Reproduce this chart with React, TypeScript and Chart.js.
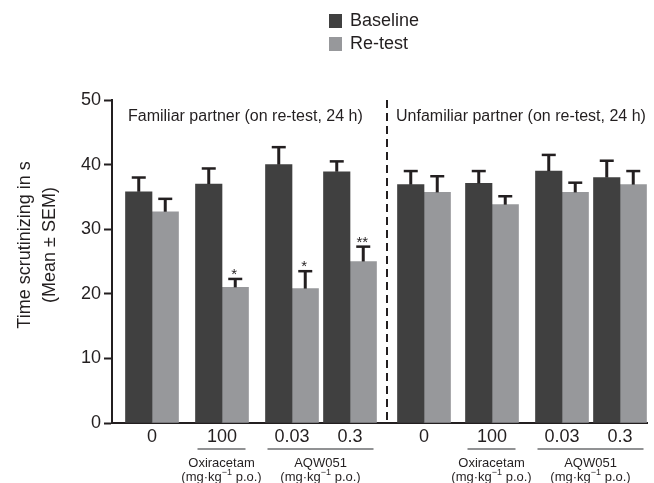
import React, { useEffect, useRef } from "react";
import { Chart, registerables } from "chart.js";

Chart.register(...registerables);

// ---------- data ----------
const doseLabels = ["0", "100", "0.03", "0.3", "0", "100", "0.03", "0.3"];
const seriesNames = ["Baseline", "Re-test"];
const baselineMean = [35.8, 37.0, 40.0, 38.9, 36.9, 37.1, 39.0, 38.0];
const baselineSem = [2.2, 2.4, 2.7, 1.6, 2.1, 1.9, 2.5, 2.6];
const retestMean = [32.7, 21.0, 20.8, 25.0, 35.7, 33.8, 35.7, 36.9];
const retestSem = [2.0, 1.3, 2.7, 2.3, 2.5, 1.3, 1.5, 2.1];
const retestStars = ["", "*", "*", "**", "", "", "", ""];
const panelTitles = ["Familiar partner (on re-test, 24 h)", "Unfamiliar partner (on re-test, 24 h)"];
const drugNames = ["Oxiracetam", "AQW051", "Oxiracetam", "AQW051"];
const drugFirstGroup = [1, 2, 5, 6];
const drugLastGroup = [1, 3, 5, 7];
const yTitleLines = ["Time scrutinizing in s", "(Mean ± SEM)"];

// ---------- layout (group centres along the x axis, in axis units) ----------
const slotX = [40, 110, 180, 238, 312, 380, 450, 508];
const X_MAX = 535;

const FONT = '"Liberation Sans", Arial, Helvetica, sans-serif';
const INK = "#231f20";
const DARK = "#404040";
const LIGHT = "#97989b";
const BAR_W = 26.5;

const annotations = {
  id: "annotations",
  afterDatasetsDraw(chart: any) {
    const { ctx, scales } = chart;
    const y = scales.y;
    ctx.save();
    const series = [
      [baselineMean, baselineSem],
      [retestMean, retestSem],
    ];
    series.forEach(([vals, sems], di) => {
      const meta = chart.getDatasetMeta(di);
      meta.data.forEach((bar: any, i: number) => {
        const cx = bar.x;
        const top = y.getPixelForValue(vals[i]);
        const end = y.getPixelForValue(vals[i] + sems[i]);
        ctx.strokeStyle = INK;
        ctx.lineWidth = 3;
        ctx.lineCap = "butt";
        ctx.beginPath();
        ctx.moveTo(cx, top);
        ctx.lineTo(cx, end);
        ctx.stroke();
        ctx.lineWidth = 2.5;
        ctx.beginPath();
        ctx.moveTo(cx - 7, end);
        ctx.lineTo(cx + 7, end);
        ctx.stroke();
        if (di === 1 && retestStars[i]) {
          ctx.fillStyle = INK;
          ctx.font = `15px ${FONT}`;
          ctx.textAlign = "center";
          ctx.textBaseline = "alphabetic";
          ctx.fillText(retestStars[i], cx - 1, end);
        }
      });
    });
    ctx.restore();
  },
  afterDraw(chart: any) {
    const { ctx, chartArea, scales } = chart;
    const x = scales.x;
    ctx.save();
    ctx.fillStyle = INK;

    // legend
    const legendColors = [DARK, LIGHT];
    seriesNames.forEach((name, i) => {
      const cy = 21 + i * 23;
      ctx.fillStyle = legendColors[i];
      ctx.fillRect(329, cy - 7, 13, 14);
      ctx.fillStyle = INK;
      ctx.font = `18px ${FONT}`;
      ctx.textAlign = "left";
      ctx.textBaseline = "middle";
      ctx.fillText(name, 350, cy);
    });

    // y title
    ctx.font = `18px ${FONT}`;
    ctx.textAlign = "center";
    ctx.textBaseline = "middle";
    yTitleLines.forEach((line, i) => {
      ctx.save();
      ctx.translate(25 + i * 25, 245);
      ctx.rotate(-Math.PI / 2);
      ctx.fillText(line, 0, 0);
      ctx.restore();
    });

    // dashed separator between panels
    const leftEdge4 = x.getPixelForValue(slotX[3]) + BAR_W;
    const rightEdge5 = x.getPixelForValue(slotX[4]) - BAR_W;
    const sepX = (leftEdge4 + rightEdge5) / 2;
    ctx.strokeStyle = INK;
    ctx.lineWidth = 2;
    ctx.setLineDash([8, 5]);
    ctx.beginPath();
    ctx.moveTo(sepX, chartArea.top);
    ctx.lineTo(sepX, chartArea.bottom);
    ctx.stroke();
    ctx.setLineDash([]);

    // panel titles
    ctx.font = `16px ${FONT}`;
    ctx.textAlign = "left";
    ctx.textBaseline = "middle";
    ctx.fillText(panelTitles[0], chartArea.left + 16, 117);
    ctx.fillText(panelTitles[1], sepX + 9, 117);

    // dose tick labels
    ctx.font = `18px ${FONT}`;
    ctx.textAlign = "center";
    doseLabels.forEach((lab, i) => {
      ctx.fillText(lab, x.getPixelForValue(slotX[i]), 437);
    });

    // drug underlines and names
    drugNames.forEach((name, k) => {
      const a = x.getPixelForValue(slotX[drugFirstGroup[k]]) - BAR_W + 2;
      const b = x.getPixelForValue(slotX[drugLastGroup[k]]) + BAR_W - 3;
      ctx.strokeStyle = "#6d6e71";
      ctx.lineWidth = 1.5;
      ctx.beginPath();
      ctx.moveTo(a, 449);
      ctx.lineTo(b, 449);
      ctx.stroke();
      const c = (a + b) / 2;
      ctx.fillStyle = INK;
      ctx.font = `13px ${FONT}`;
      ctx.textAlign = "center";
      ctx.textBaseline = "middle";
      ctx.fillText(name, c, 463);
      // "(mg·kg⁻¹ p.o.)" with a drawn superscript
      const p1 = "(mg·kg";
      const sup = "−1";
      const p2 = " p.o.)";
      ctx.font = `13px ${FONT}`;
      const w1 = ctx.measureText(p1).width;
      const w3 = ctx.measureText(p2).width;
      ctx.font = `9px ${FONT}`;
      const w2 = ctx.measureText(sup).width;
      let sx = c - (w1 + w2 + w3) / 2;
      ctx.textAlign = "left";
      ctx.font = `13px ${FONT}`;
      ctx.fillText(p1, sx, 477);
      sx += w1;
      ctx.font = `9px ${FONT}`;
      ctx.fillText(sup, sx, 473);
      sx += w2;
      ctx.font = `13px ${FONT}`;
      ctx.fillText(p2, sx, 477);
    });

    ctx.restore();
  },
};

export default function App() {
  const ref = useRef<HTMLCanvasElement | null>(null);

  useEffect(() => {
    if (!ref.current) return;
    const chart = new Chart(ref.current, {
      type: "bar",
      data: {
        datasets: [
          {
            label: seriesNames[0],
            data: baselineMean.map((v, i) => ({ x: slotX[i], y: v })),
            backgroundColor: DARK,
            borderWidth: 0,
            barThickness: BAR_W,
          },
          {
            label: seriesNames[1],
            data: retestMean.map((v, i) => ({ x: slotX[i], y: v })),
            backgroundColor: LIGHT,
            borderWidth: 0,
            barThickness: BAR_W,
          },
        ],
      },
      options: {
        animation: false,
        responsive: false,
        devicePixelRatio: 1,
        layout: { padding: { left: 0, right: 7, top: 100, bottom: 0 } },
        plugins: {
          legend: { display: false },
          tooltip: { enabled: false },
          title: { display: false },
        },
        scales: {
          x: {
            type: "linear",
            min: 0,
            max: X_MAX,
            offset: false,
            grid: { display: false },
            ticks: { display: false },
            border: { display: true, color: INK, width: 2 },
            afterFit: (s: any) => {
              s.height = 60;
            },
          },
          y: {
            min: 0,
            max: 50,
            ticks: {
              stepSize: 10,
              color: INK,
              font: { family: FONT, size: 18 },
              padding: 3,
            },
            grid: {
              display: true,
              drawOnChartArea: false,
              drawTicks: true,
              tickLength: 8,
              tickWidth: 2,
              tickColor: INK,
            },
            border: { display: true, color: INK, width: 2 },
            afterFit: (s: any) => {
              s.width = 112;
            },
          },
        },
      },
      plugins: [annotations],
    } as any);
    return () => chart.destroy();
  }, []);

  return (
    <div style={{ position: "absolute", left: 0, top: 0, width: 654, height: 483, background: "#fff" }}>
      <canvas ref={ref} width={654} height={483} />
    </div>
  );
}
